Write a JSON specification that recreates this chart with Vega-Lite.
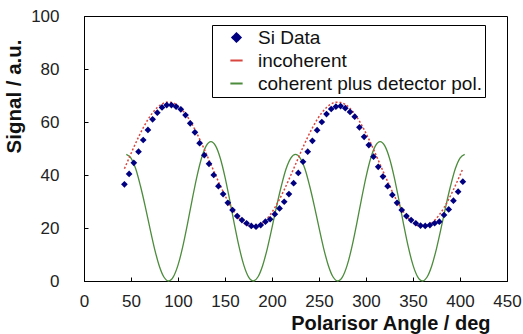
{
  "$schema": "https://vega.github.io/schema/vega-lite/v6.json",
  "width": 423,
  "height": 265,
  "autosize": {"type": "none"},
  "padding": {"left": 84, "top": 16, "right": 16, "bottom": 53},
  "background": "white",
  "config": {
    "view": {"stroke": "black", "strokeWidth": 1},
    "font": "Liberation Sans",
    "axis": {
      "labelFont": "Liberation Sans",
      "labelFontSize": 17,
      "labelColor": "#222222",
      "labelFlush": false,
      "titleFont": "Liberation Sans",
      "titleFontWeight": "bold",
      "titleFontSize": 20,
      "titleColor": "#111111",
      "domainColor": "black",
      "tickColor": "black",
      "tickSize": -4,
      "grid": false
    },
    "legend": {
      "labelFont": "Liberation Sans",
      "labelFontSize": 19,
      "labelColor": "#111111"
    }
  },
  "datasets": {
    "si": [
      {"angle":43,"value":36.5},{"angle":48,"value":40.4},{"angle":53,"value":44.6},{"angle":58,"value":48.8},
      {"angle":63,"value":53.2},{"angle":68,"value":57},{"angle":73,"value":61},{"angle":78,"value":63.5},
      {"angle":83,"value":65.5},{"angle":88,"value":66.4},{"angle":93,"value":66.4},{"angle":98,"value":65.8},
      {"angle":103,"value":64.8},{"angle":108,"value":62.6},{"angle":113,"value":59.5},{"angle":118,"value":56.1},
      {"angle":123,"value":52},{"angle":128,"value":47.5},{"angle":133,"value":44.2},{"angle":138,"value":40},
      {"angle":143,"value":35.8},{"angle":148,"value":32.8},{"angle":153,"value":29.5},{"angle":158,"value":26.8},
      {"angle":163,"value":24.5},{"angle":168,"value":23},{"angle":173,"value":21.8},{"angle":178,"value":20.8},
      {"angle":183,"value":20.5},{"angle":188,"value":21.1},{"angle":193,"value":22.4},{"angle":198,"value":23.3},
      {"angle":203,"value":25.2},{"angle":208,"value":27.4},{"angle":213,"value":29.9},{"angle":218,"value":32.8},
      {"angle":223,"value":36.9},{"angle":228,"value":40.8},{"angle":233,"value":45},{"angle":238,"value":48.8},
      {"angle":243,"value":52.9},{"angle":248,"value":56.9},{"angle":253,"value":60},{"angle":258,"value":63},
      {"angle":263,"value":64.9},{"angle":268,"value":65.8},{"angle":273,"value":66},{"angle":278,"value":65.2},
      {"angle":283,"value":63.8},{"angle":288,"value":62},{"angle":293,"value":58},{"angle":298,"value":54.4},
      {"angle":303,"value":51.3},{"angle":308,"value":46.9},{"angle":313,"value":43.1},{"angle":318,"value":39.4},
      {"angle":323,"value":35.8},{"angle":328,"value":32.5},{"angle":333,"value":29.5},{"angle":338,"value":26.8},
      {"angle":343,"value":24.5},{"angle":348,"value":23},{"angle":353,"value":21.8},{"angle":358,"value":20.9},
      {"angle":363,"value":20.8},{"angle":368,"value":21.1},{"angle":373,"value":21.8},{"angle":378,"value":22.4},
      {"angle":383,"value":24.9},{"angle":388,"value":27},{"angle":393,"value":30.3},{"angle":398,"value":33.7},
      {"angle":403,"value":37.5}
    ],
    "inc": [
      {"angle":43,"value":42.36},{"angle":48,"value":46.46},{"angle":53,"value":50.48},{"angle":58,"value":54.3},
      {"angle":63,"value":57.81},{"angle":68,"value":60.9},{"angle":73,"value":63.48},{"angle":78,"value":65.47},
      {"angle":83,"value":66.8},{"angle":88,"value":67.44},{"angle":93,"value":67.37},{"angle":98,"value":66.59},
      {"angle":103,"value":65.12},{"angle":108,"value":63.01},{"angle":113,"value":60.33},{"angle":118,"value":57.14},
      {"angle":123,"value":53.56},{"angle":128,"value":49.68},{"angle":133,"value":45.64},{"angle":138,"value":41.54},
      {"angle":143,"value":37.52},{"angle":148,"value":33.7},{"angle":153,"value":30.19},{"angle":158,"value":27.1},
      {"angle":163,"value":24.52},{"angle":168,"value":22.53},{"angle":173,"value":21.2},{"angle":178,"value":20.56},
      {"angle":183,"value":20.63},{"angle":188,"value":21.41},{"angle":193,"value":22.88},{"angle":198,"value":24.99},
      {"angle":203,"value":27.67},{"angle":208,"value":30.86},{"angle":213,"value":34.44},{"angle":218,"value":38.32},
      {"angle":223,"value":42.36},{"angle":228,"value":46.46},{"angle":233,"value":50.48},{"angle":238,"value":54.3},
      {"angle":243,"value":57.81},{"angle":248,"value":60.9},{"angle":253,"value":63.48},{"angle":258,"value":65.47},
      {"angle":263,"value":66.8},{"angle":268,"value":67.44},{"angle":273,"value":67.37},{"angle":278,"value":66.59},
      {"angle":283,"value":65.12},{"angle":288,"value":63.01},{"angle":293,"value":60.33},{"angle":298,"value":57.14},
      {"angle":303,"value":53.56},{"angle":308,"value":49.68},{"angle":313,"value":45.64},{"angle":318,"value":41.54},
      {"angle":323,"value":37.52},{"angle":328,"value":33.7},{"angle":333,"value":30.19},{"angle":338,"value":27.1},
      {"angle":343,"value":24.52},{"angle":348,"value":22.53},{"angle":353,"value":21.2},{"angle":358,"value":20.56},
      {"angle":363,"value":20.63},{"angle":368,"value":21.41},{"angle":373,"value":22.88},{"angle":378,"value":24.99},
      {"angle":383,"value":27.67},{"angle":388,"value":30.86},{"angle":393,"value":34.44},{"angle":398,"value":38.32},
      {"angle":403,"value":42.36}
    ],
    "coh": [
      {"angle":45,"value":47.8},{"angle":50,"value":46.39},{"angle":55,"value":42.34},{"angle":60,"value":35.94},
      {"angle":65,"value":28.38},{"angle":70,"value":20.11},{"angle":75,"value":12.25},{"angle":80,"value":5.78},
      {"angle":85,"value":1.5},{"angle":90,"value":0},{"angle":95,"value":1.53},{"angle":100,"value":5.97},
      {"angle":105,"value":12.85},{"angle":110,"value":21.38},{"angle":115,"value":30.54},{"angle":120,"value":39.21},
      {"angle":125,"value":46.32},{"angle":130,"value":50.98},{"angle":135,"value":52.6},{"angle":140,"value":50.98},
      {"angle":145,"value":46.32},{"angle":150,"value":39.21},{"angle":155,"value":30.54},{"angle":160,"value":21.38},
      {"angle":165,"value":12.85},{"angle":170,"value":5.97},{"angle":175,"value":1.53},{"angle":180,"value":0},
      {"angle":185,"value":1.5},{"angle":190,"value":5.78},{"angle":195,"value":12.25},{"angle":200,"value":20.11},
      {"angle":205,"value":28.38},{"angle":210,"value":35.94},{"angle":215,"value":42.34},{"angle":220,"value":46.39},
      {"angle":225,"value":47.8},{"angle":230,"value":46.39},{"angle":235,"value":42.34},{"angle":240,"value":35.94},
      {"angle":245,"value":28.38},{"angle":250,"value":20.11},{"angle":255,"value":12.25},{"angle":260,"value":5.78},
      {"angle":265,"value":1.5},{"angle":270,"value":0},{"angle":275,"value":1.53},{"angle":280,"value":5.97},
      {"angle":285,"value":12.85},{"angle":290,"value":21.38},{"angle":295,"value":30.54},{"angle":300,"value":39.21},
      {"angle":305,"value":46.32},{"angle":310,"value":50.98},{"angle":315,"value":52.6},{"angle":320,"value":50.98},
      {"angle":325,"value":46.32},{"angle":330,"value":39.21},{"angle":335,"value":30.54},{"angle":340,"value":21.38},
      {"angle":345,"value":12.85},{"angle":350,"value":5.97},{"angle":355,"value":1.53},{"angle":360,"value":0},
      {"angle":365,"value":1.5},{"angle":370,"value":5.78},{"angle":375,"value":12.25},{"angle":380,"value":20.11},
      {"angle":385,"value":28.38},{"angle":390,"value":35.94},{"angle":395,"value":42.34},{"angle":400,"value":46.39},
      {"angle":405,"value":47.8}
    ]
  },
  "encoding": {
    "x": {
      "field": "angle", "type": "quantitative",
      "scale": {"domain": [0, 450], "nice": false, "zero": false},
      "axis": {
        "values": [0,50,100,150,200,250,300,350,400,450],
        "title": "Polarisor Angle / deg",
        "labelPadding": 16,
        "titleAnchor": "end",
        "titleAlign": "right",
        "titleX": 406,
        "titleY": 48,
        "titleBaseline": "alphabetic"
      }
    },
    "y": {
      "field": "value", "type": "quantitative",
      "scale": {"domain": [0, 100], "nice": false},
      "axis": {
        "values": [0,20,40,60,80,100],
        "title": "Signal / a.u.",
        "titleFontSize": 20.5,
        "labelPadding": 29,
        "titleAnchor": "end",
        "titleAlign": "right",
        "titleY": 23,
        "titlePadding": 6
      }
    },
    "color": {
      "field": "series", "type": "nominal",
      "scale": {
        "domain": ["Si Data", "incoherent", "coherent plus detector pol."],
        "range": ["#000080", "#d9463f", "#4c8c3c"]
      },
      "legend": {
        "title": null,
        "orient": "none",
        "legendX": 128,
        "legendY": 9,
        "strokeColor": "black",
        "fillColor": "white",
        "padding": 3,
        "rowPadding": 3,
        "symbolOffset": 12,
        "labelOffset": 12,
        "labelLimit": 400,
        "labelExpr": "datum.label + '\u00a0\u00a0'",
        "encode": {
          "symbols": {
            "update": {
              "shape": {"signal": "datum.value === 'Si Data' ? 'diamond' : 'stroke'"},
              "size": {"signal": "datum.value === 'Si Data' ? 70 : 150"},
              "fill": {"signal": "datum.value === 'Si Data' ? '#000080' : 'transparent'"},
              "stroke": {"signal": "datum.value === 'Si Data' ? 'transparent' : (datum.value === 'incoherent' ? '#e07070' : '#6a9a5a')"},
              "strokeWidth": {"value": 2},
              "strokeDash": {"value": [1, 0]},
              "opacity": {"value": 1}
            }
          }
        }
      }
    }
  },
  "layer": [
    {
      "data": {"name": "coh"},
      "transform": [{"calculate": "'coherent plus detector pol.'", "as": "series"}],
      "mark": {"type": "line", "interpolate": "monotone", "strokeWidth": 1.3}
    },
    {
      "data": {"name": "inc"},
      "transform": [{"calculate": "'incoherent'", "as": "series"}],
      "mark": {"type": "line", "interpolate": "monotone", "strokeWidth": 1.5, "strokeDash": [2, 2]}
    },
    {
      "data": {"name": "si"},
      "transform": [{"calculate": "'Si Data'", "as": "series"}],
      "mark": {"type": "point", "shape": "diamond", "filled": true, "size": 45, "opacity": 1}
    }
  ]
}
